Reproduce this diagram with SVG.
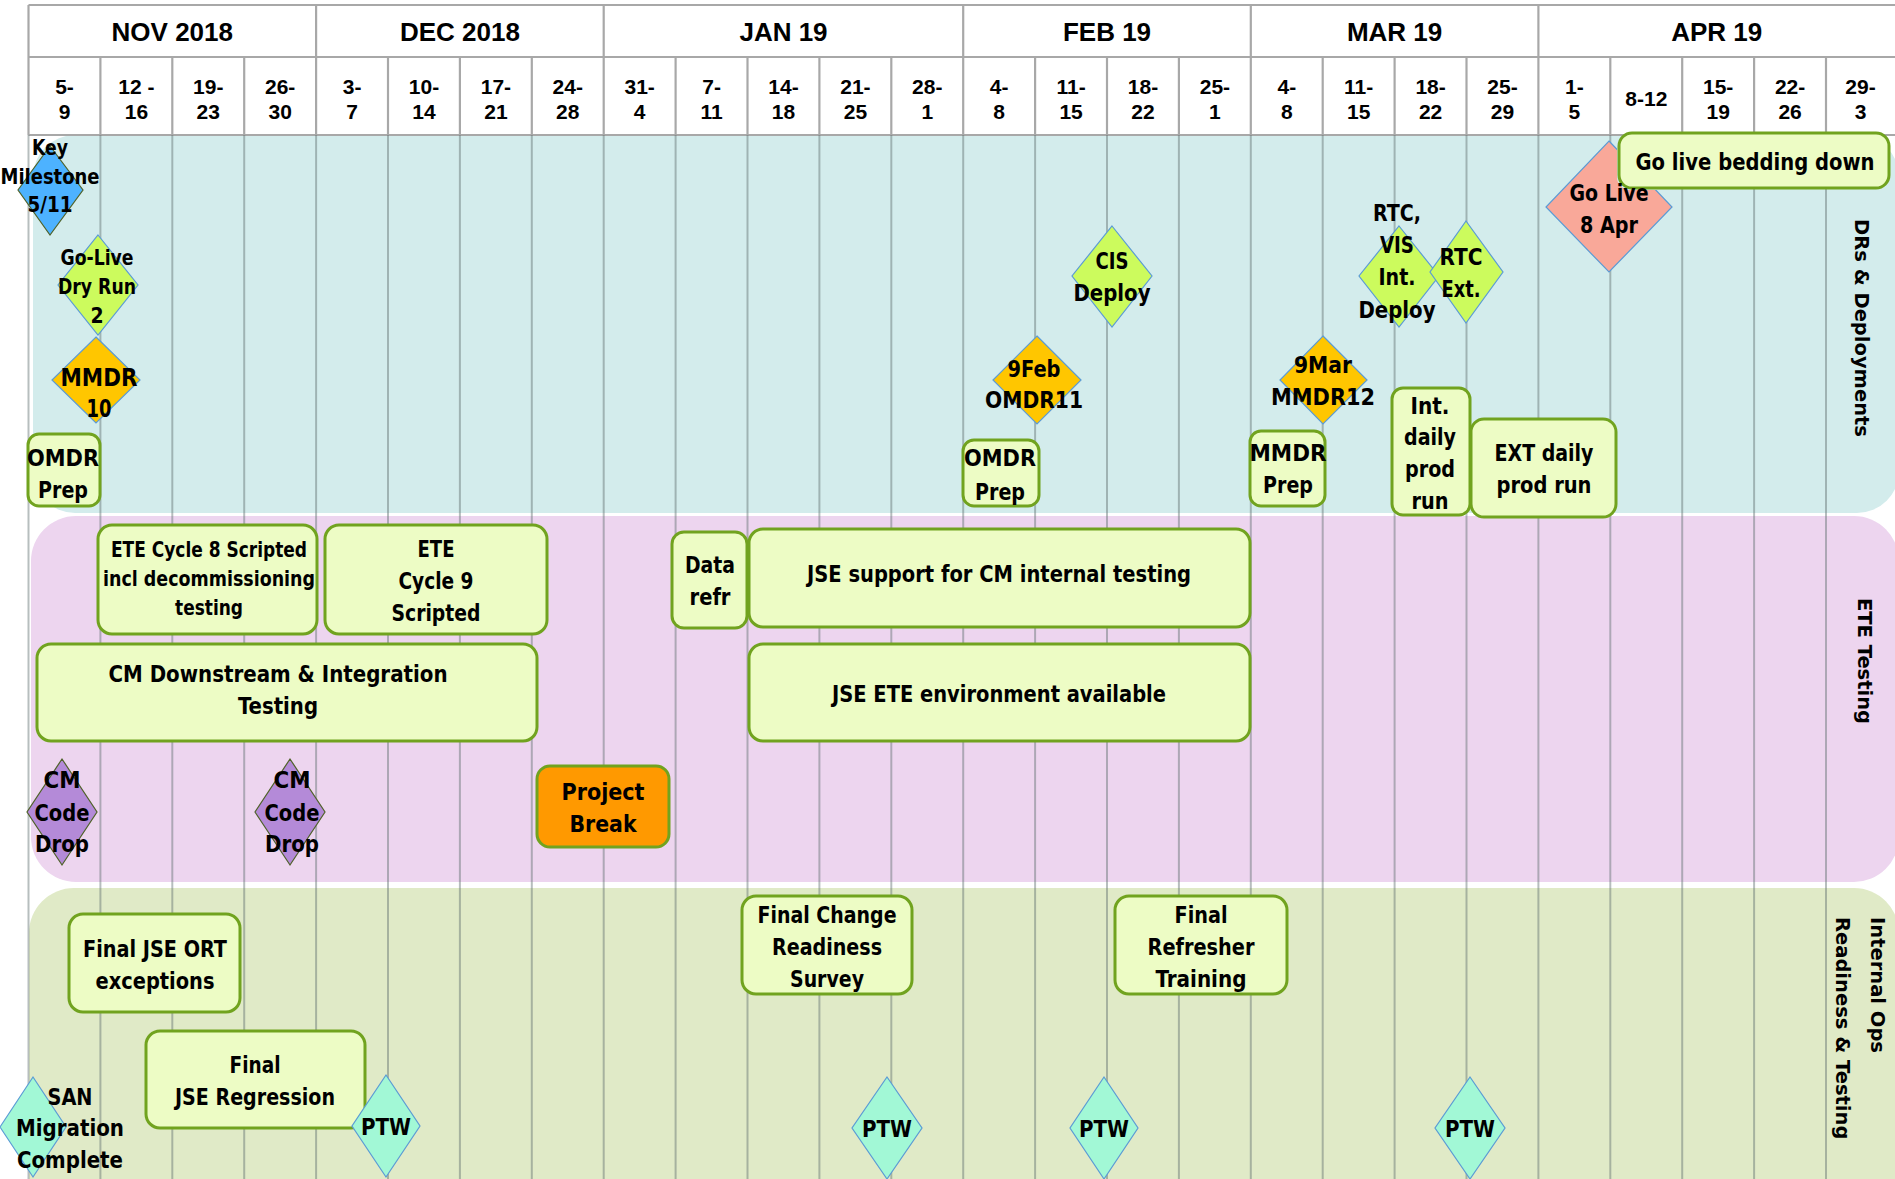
<svg xmlns="http://www.w3.org/2000/svg" width="1895" height="1179" viewBox="0 0 1895 1179">
<style>
.hdr{font-family:"Liberation Sans",Arial,sans-serif;font-weight:bold;fill:#000;text-anchor:middle}
.mon{font-size:26px}
.wk{font-size:21px}
.hl{stroke:#a8a8a8;stroke-width:2.2;fill:none}
.gl{stroke:#5f6f6f;stroke-opacity:0.45;stroke-width:2}
.t{font-family:"Liberation Sans Narrow","DejaVu Sans Condensed",sans-serif;font-weight:bold;font-size:23px;fill:#000;text-anchor:middle}
.s{font-size:21px}
.box{fill:#edfcc5;stroke:#71a31f;stroke-width:3}
.dg{fill:#ccfb5d;stroke:#5b9bd5;stroke-width:1.2}
.dy{fill:#ffc600;stroke:#5b9bd5;stroke-width:1.2}
.db{fill:#4db2ff;stroke:#4f6228;stroke-width:1.2}
.ds{fill:#f9a899;stroke:#5b9bd5;stroke-width:1.2}
.dp{fill:#b48ad8;stroke:#4f6228;stroke-width:1.2}
.da{fill:#a2f8d6;stroke:#5b9bd5;stroke-width:1.2}
.lane{font-family:"DejaVu Sans",Verdana,sans-serif;font-weight:bold;font-size:19.5px;fill:#000}
</style>
<defs>
<clipPath id="outsideBedding"><path clip-rule="evenodd" d="M1530,125H1700V285H1530Z M1630,131H1878A15,15 0 0 1 1893,146V175A15,15 0 0 1 1878,190H1630A13,13 0 0 1 1617,177V144A13,13 0 0 1 1630,131Z"/></clipPath>
</defs>
<rect width="1895" height="1179" fill="#fff"/>
<g id="bands">
<rect x="33" y="135" width="1866" height="378" rx="42" fill="#d3ecec"/>
<rect x="31" y="516" width="1868" height="366" rx="45" fill="#edd5ef"/>
<rect x="29" y="888" width="1870" height="340" rx="45" fill="#e0eac7"/>
</g>
<g id="header">
<line class="hl" x1="28.5" y1="5" x2="1895" y2="5"/>
<line class="hl" x1="28.5" y1="57" x2="1895" y2="57"/>
<line class="hl" x1="28.5" y1="135" x2="1895" y2="135"/>
<g class="hl">
<line x1="28.5" y1="5" x2="28.5" y2="135"/><line x1="316.1" y1="5" x2="316.1" y2="135"/><line x1="603.7" y1="5" x2="603.7" y2="135"/><line x1="963.2" y1="5" x2="963.2" y2="135"/><line x1="1250.8" y1="5" x2="1250.8" y2="135"/><line x1="1538.4" y1="5" x2="1538.4" y2="135"/>
<line x1="100.4" y1="57" x2="100.4" y2="135"/><line x1="172.3" y1="57" x2="172.3" y2="135"/><line x1="244.2" y1="57" x2="244.2" y2="135"/><line x1="388" y1="57" x2="388" y2="135"/><line x1="459.9" y1="57" x2="459.9" y2="135"/><line x1="531.8" y1="57" x2="531.8" y2="135"/><line x1="675.6" y1="57" x2="675.6" y2="135"/><line x1="747.5" y1="57" x2="747.5" y2="135"/><line x1="819.4" y1="57" x2="819.4" y2="135"/><line x1="891.3" y1="57" x2="891.3" y2="135"/><line x1="1035.1" y1="57" x2="1035.1" y2="135"/><line x1="1107" y1="57" x2="1107" y2="135"/><line x1="1178.9" y1="57" x2="1178.9" y2="135"/><line x1="1322.7" y1="57" x2="1322.7" y2="135"/><line x1="1394.6" y1="57" x2="1394.6" y2="135"/><line x1="1466.5" y1="57" x2="1466.5" y2="135"/><line x1="1610.3" y1="57" x2="1610.3" y2="135"/><line x1="1682.2" y1="57" x2="1682.2" y2="135"/><line x1="1754.1" y1="57" x2="1754.1" y2="135"/><line x1="1826" y1="57" x2="1826" y2="135"/>
</g>
<g class="hdr mon">
<text x="172.3" y="41">NOV 2018</text><text x="459.9" y="41">DEC 2018</text><text x="783.5" y="41">JAN 19</text><text x="1107" y="41">FEB 19</text><text x="1394.6" y="41">MAR 19</text><text x="1716.7" y="41">APR 19</text>
</g>
<g class="hdr wk">
<text x="64.5" y="94">5-</text><text x="64.5" y="119">9</text>
<text x="136.4" y="94">12 -</text><text x="136.4" y="119">16</text>
<text x="208.3" y="94">19-</text><text x="208.3" y="119">23</text>
<text x="280.2" y="94">26-</text><text x="280.2" y="119">30</text>
<text x="352.1" y="94">3-</text><text x="352.1" y="119">7</text>
<text x="424" y="94">10-</text><text x="424" y="119">14</text>
<text x="495.9" y="94">17-</text><text x="495.9" y="119">21</text>
<text x="567.8" y="94">24-</text><text x="567.8" y="119">28</text>
<text x="639.7" y="94">31-</text><text x="639.7" y="119">4</text>
<text x="711.6" y="94">7-</text><text x="711.6" y="119">11</text>
<text x="783.5" y="94">14-</text><text x="783.5" y="119">18</text>
<text x="855.4" y="94">21-</text><text x="855.4" y="119">25</text>
<text x="927.3" y="94">28-</text><text x="927.3" y="119">1</text>
<text x="999.2" y="94">4-</text><text x="999.2" y="119">8</text>
<text x="1071.1" y="94">11-</text><text x="1071.1" y="119">15</text>
<text x="1143" y="94">18-</text><text x="1143" y="119">22</text>
<text x="1214.9" y="94">25-</text><text x="1214.9" y="119">1</text>
<text x="1286.8" y="94">4-</text><text x="1286.8" y="119">8</text>
<text x="1358.7" y="94">11-</text><text x="1358.7" y="119">15</text>
<text x="1430.6" y="94">18-</text><text x="1430.6" y="119">22</text>
<text x="1502.5" y="94">25-</text><text x="1502.5" y="119">29</text>
<text x="1574.4" y="94">1-</text><text x="1574.4" y="119">5</text>
<text x="1646.3" y="106">8-12</text>
<text x="1718.2" y="94">15-</text><text x="1718.2" y="119">19</text>
<text x="1790.1" y="94">22-</text><text x="1790.1" y="119">26</text>
<text x="1860.5" y="94">29-</text><text x="1860.5" y="119">3</text>
</g>
</g>
<g id="grid" class="gl">
<line x1="28.5" y1="135" x2="28.5" y2="1179"/><line x1="100.4" y1="135" x2="100.4" y2="1179"/><line x1="172.3" y1="135" x2="172.3" y2="1179"/><line x1="244.2" y1="135" x2="244.2" y2="1179"/><line x1="316.1" y1="135" x2="316.1" y2="1179"/><line x1="388" y1="135" x2="388" y2="1179"/><line x1="459.9" y1="135" x2="459.9" y2="1179"/><line x1="531.8" y1="135" x2="531.8" y2="1179"/><line x1="603.7" y1="135" x2="603.7" y2="1179"/><line x1="675.6" y1="135" x2="675.6" y2="1179"/><line x1="747.5" y1="135" x2="747.5" y2="1179"/><line x1="819.4" y1="135" x2="819.4" y2="1179"/><line x1="891.3" y1="135" x2="891.3" y2="1179"/><line x1="963.2" y1="135" x2="963.2" y2="1179"/><line x1="1035.1" y1="135" x2="1035.1" y2="1179"/><line x1="1107" y1="135" x2="1107" y2="1179"/><line x1="1178.9" y1="135" x2="1178.9" y2="1179"/><line x1="1250.8" y1="135" x2="1250.8" y2="1179"/><line x1="1322.7" y1="135" x2="1322.7" y2="1179"/><line x1="1394.6" y1="135" x2="1394.6" y2="1179"/><line x1="1466.5" y1="135" x2="1466.5" y2="1179"/><line x1="1538.4" y1="135" x2="1538.4" y2="1179"/><line x1="1610.3" y1="135" x2="1610.3" y2="1179"/><line x1="1682.2" y1="135" x2="1682.2" y2="1179"/><line x1="1754.1" y1="135" x2="1754.1" y2="1179"/><line x1="1826" y1="135" x2="1826" y2="1179"/>
</g>
<g id="connectors"/>
<g id="lanes" class="lane">
<text transform="translate(1855,328) rotate(90)" text-anchor="middle">DRs &amp; Deployments</text>
<text transform="translate(1858,661) rotate(90)" text-anchor="middle">ETE Testing</text>
<text transform="translate(1871,917) rotate(90)">Internal Ops</text>
<text transform="translate(1836,917) rotate(90)">Readiness &amp; Testing</text>
</g>
<g id="n_key"><polygon class="db" points="50,146 83,190 50,235 18,190"/><text class="t s" x="50" y="155" textLength="36" lengthAdjust="spacingAndGlyphs">Key</text><text class="t s" x="50" y="184" textLength="99" lengthAdjust="spacingAndGlyphs">Milestone</text><text class="t s" x="50" y="212" textLength="45" lengthAdjust="spacingAndGlyphs">5/11</text></g>
<g id="n_golive_dryrun"><polygon class="dg" points="98,235 138,285 98,335 58,285"/><text class="t s" x="97" y="265" textLength="73" lengthAdjust="spacingAndGlyphs">Go-Live</text><text class="t s" x="97" y="294" textLength="78" lengthAdjust="spacingAndGlyphs">Dry Run</text><text class="t s" x="97" y="323">2</text></g>
<g id="n_mmdr10"><polygon class="dy" points="96,337 140,380 96,423 52,380"/><text class="t" style="font-size:25px" x="99" y="386" textLength="77" lengthAdjust="spacingAndGlyphs">MMDR</text><text class="t" style="font-size:25px" x="99" y="417" textLength="25" lengthAdjust="spacingAndGlyphs">10</text></g>
<g id="n_omdrprep1"><rect class="box" x="28" y="434" width="72" height="72" rx="11"/><text class="t" x="63" y="466" textLength="72" lengthAdjust="spacingAndGlyphs">OMDR</text><text class="t" x="63" y="498" textLength="50" lengthAdjust="spacingAndGlyphs">Prep</text></g>
<g id="n_9feb"><polygon class="dy" points="1037,336 1081,380 1037,424 993,380"/><text class="t" x="1034" y="377" textLength="53" lengthAdjust="spacingAndGlyphs">9Feb</text><text class="t" x="1034" y="408" textLength="98" lengthAdjust="spacingAndGlyphs">OMDR11</text></g>
<g id="n_cis"><polygon class="dg" points="1112,226 1152,276 1112,327 1072,276"/><text class="t" x="1112" y="269" textLength="33" lengthAdjust="spacingAndGlyphs">CIS</text><text class="t" x="1112" y="301" textLength="77" lengthAdjust="spacingAndGlyphs">Deploy</text></g>
<g id="n_omdrprep2"><rect class="box" x="963" y="440" width="76" height="66" rx="11"/><text class="t" x="1000" y="466" textLength="72" lengthAdjust="spacingAndGlyphs">OMDR</text><text class="t" x="1000" y="500" textLength="50" lengthAdjust="spacingAndGlyphs">Prep</text></g>
<g id="n_9mar"><polygon class="dy" points="1323,336 1367,380 1323,424 1280,380"/><text class="t" x="1323" y="373" textLength="58" lengthAdjust="spacingAndGlyphs">9Mar</text><text class="t" x="1323" y="405" textLength="104" lengthAdjust="spacingAndGlyphs">MMDR12</text></g>
<g id="n_mmdrprep"><rect class="box" x="1250" y="431" width="75" height="75" rx="11"/><text class="t" x="1288" y="461" textLength="77" lengthAdjust="spacingAndGlyphs">MMDR</text><text class="t" x="1288" y="493" textLength="50" lengthAdjust="spacingAndGlyphs">Prep</text></g>
<g id="n_rtcvis"><polygon class="dg" points="1399,226 1439,276 1399,327 1359,276"/><text class="t" x="1397" y="221" textLength="48" lengthAdjust="spacingAndGlyphs">RTC,</text><text class="t" x="1397" y="253" textLength="34" lengthAdjust="spacingAndGlyphs">VIS</text><text class="t" x="1397" y="285" textLength="37" lengthAdjust="spacingAndGlyphs">Int.</text><text class="t" x="1397" y="318" textLength="77" lengthAdjust="spacingAndGlyphs">Deploy</text></g>
<g id="n_rtcext"><polygon class="dg" points="1466,221 1503,272 1466,323 1430,272"/><text class="t" x="1461" y="265" textLength="43" lengthAdjust="spacingAndGlyphs">RTC</text><text class="t" x="1461" y="297" textLength="39" lengthAdjust="spacingAndGlyphs">Ext.</text></g>
<g id="n_intdaily"><rect class="box" x="1392" y="388" width="78" height="127" rx="11"/><text class="t" x="1430" y="414" textLength="39" lengthAdjust="spacingAndGlyphs">Int.</text><text class="t" x="1430" y="445" textLength="52" lengthAdjust="spacingAndGlyphs">daily</text><text class="t" x="1430" y="477" textLength="50" lengthAdjust="spacingAndGlyphs">prod</text><text class="t" x="1430" y="509" textLength="37" lengthAdjust="spacingAndGlyphs">run</text></g>
<g id="n_extdaily"><rect class="box" x="1471" y="419" width="145" height="98" rx="13"/><text class="t" x="1544" y="461" textLength="99" lengthAdjust="spacingAndGlyphs">EXT daily</text><text class="t" x="1544" y="493" textLength="95" lengthAdjust="spacingAndGlyphs">prod run</text></g>
<g id="n_gobedding"><rect class="box" x="1619" y="133" width="270" height="55" rx="13"/><text class="t" x="1755" y="170" textLength="239" lengthAdjust="spacingAndGlyphs">Go live bedding down</text></g>
<g id="n_golive"><polygon class="ds" clip-path="url(#outsideBedding)" points="1609,141 1672,207 1609,272 1546,207"/><text class="t" x="1609" y="201" textLength="79" lengthAdjust="spacingAndGlyphs">Go Live</text><text class="t" x="1609" y="233" textLength="58" lengthAdjust="spacingAndGlyphs">8 Apr</text></g>
<g id="n_ete8"><rect class="box" x="98" y="525" width="219" height="109" rx="14"/><text class="t s" x="209" y="557" textLength="196" lengthAdjust="spacingAndGlyphs">ETE Cycle 8 Scripted</text><text class="t s" x="209" y="586" textLength="212" lengthAdjust="spacingAndGlyphs">incl decommissioning</text><text class="t s" x="209" y="615" textLength="68" lengthAdjust="spacingAndGlyphs">testing</text></g>
<g id="n_ete9"><rect class="box" x="325" y="525" width="222" height="109" rx="14"/><text class="t" x="436" y="557" textLength="37" lengthAdjust="spacingAndGlyphs">ETE</text><text class="t" x="436" y="589" textLength="75" lengthAdjust="spacingAndGlyphs">Cycle 9</text><text class="t" x="436" y="621" textLength="89" lengthAdjust="spacingAndGlyphs">Scripted</text></g>
<g id="n_datarefr"><rect class="box" x="672" y="532" width="75" height="96" rx="12"/><text class="t" x="710" y="573" textLength="50" lengthAdjust="spacingAndGlyphs">Data</text><text class="t" x="710" y="605" textLength="41" lengthAdjust="spacingAndGlyphs">refr</text></g>
<g id="n_jsesupport"><rect class="box" x="749" y="529" width="501" height="98" rx="14"/><text class="t" x="999" y="582" textLength="384" lengthAdjust="spacingAndGlyphs">JSE support for CM internal testing</text></g>
<g id="n_cmdownstream"><rect class="box" x="37" y="644" width="500" height="97" rx="14"/><text class="t" x="278" y="682" textLength="339" lengthAdjust="spacingAndGlyphs">CM Downstream &amp; Integration</text><text class="t" x="278" y="714" textLength="80" lengthAdjust="spacingAndGlyphs">Testing</text></g>
<g id="n_jseete"><rect class="box" x="749" y="644" width="501" height="97" rx="14"/><text class="t" x="999" y="702" textLength="334" lengthAdjust="spacingAndGlyphs">JSE ETE environment available</text></g>
<g id="n_cmdrop1"><polygon class="dp" points="62,759 97,812 62,865 27,812"/><text class="t" x="62" y="788" textLength="37" lengthAdjust="spacingAndGlyphs">CM</text><text class="t" x="62" y="821" textLength="55" lengthAdjust="spacingAndGlyphs">Code</text><text class="t" x="62" y="852" textLength="54" lengthAdjust="spacingAndGlyphs">Drop</text></g>
<g id="n_cmdrop2"><polygon class="dp" points="290,759 325,812 290,865 255,812"/><text class="t" x="292" y="788" textLength="37" lengthAdjust="spacingAndGlyphs">CM</text><text class="t" x="292" y="821" textLength="55" lengthAdjust="spacingAndGlyphs">Code</text><text class="t" x="292" y="852" textLength="54" lengthAdjust="spacingAndGlyphs">Drop</text></g>
<g id="n_projbreak"><rect x="537" y="766" width="132" height="81" rx="13" fill="#ff9900" stroke="#71a31f" stroke-width="3"/><text class="t" x="603" y="800" textLength="83" lengthAdjust="spacingAndGlyphs">Project</text><text class="t" x="603" y="832" textLength="67" lengthAdjust="spacingAndGlyphs">Break</text></g>
<g id="n_finalort"><rect class="box" x="69" y="914" width="171" height="98" rx="14"/><text class="t" x="155" y="957" textLength="144" lengthAdjust="spacingAndGlyphs">Final JSE ORT</text><text class="t" x="155" y="989" textLength="119" lengthAdjust="spacingAndGlyphs">exceptions</text></g>
<g id="n_finalregr"><rect class="box" x="146" y="1031" width="219" height="97" rx="14"/><text class="t" x="255" y="1073" textLength="51" lengthAdjust="spacingAndGlyphs">Final</text><text class="t" x="255" y="1105" textLength="160" lengthAdjust="spacingAndGlyphs">JSE Regression</text></g>
<g id="n_san"><polygon class="da" points="33,1077 66,1127 33,1177 0,1127"/><text class="t" x="70" y="1105" textLength="45" lengthAdjust="spacingAndGlyphs">SAN</text><text class="t" x="70" y="1136" textLength="108" lengthAdjust="spacingAndGlyphs">Migration</text><text class="t" x="70" y="1168" textLength="106" lengthAdjust="spacingAndGlyphs">Complete</text></g>
<g id="n_ptw1"><polygon class="da" points="386,1075 420,1126 386,1177 352,1126"/><text class="t" x="386" y="1135" textLength="50" lengthAdjust="spacingAndGlyphs">PTW</text></g>
<g id="n_fcrs"><rect class="box" x="742" y="896" width="170" height="98" rx="14"/><text class="t" x="827" y="923" textLength="139" lengthAdjust="spacingAndGlyphs">Final Change</text><text class="t" x="827" y="955" textLength="110" lengthAdjust="spacingAndGlyphs">Readiness</text><text class="t" x="827" y="987" textLength="74" lengthAdjust="spacingAndGlyphs">Survey</text></g>
<g id="n_ffrt"><rect class="box" x="1115" y="896" width="172" height="98" rx="14"/><text class="t" x="1201" y="923" textLength="53" lengthAdjust="spacingAndGlyphs">Final</text><text class="t" x="1201" y="955" textLength="107" lengthAdjust="spacingAndGlyphs">Refresher</text><text class="t" x="1201" y="987" textLength="91" lengthAdjust="spacingAndGlyphs">Training</text></g>
<g id="n_ptw2"><polygon class="da" points="887,1077 922,1128 887,1179 852,1128"/><text class="t" x="887" y="1137" textLength="50" lengthAdjust="spacingAndGlyphs">PTW</text></g>
<g id="n_ptw3"><polygon class="da" points="1104,1077 1138,1128 1104,1179 1070,1128"/><text class="t" x="1104" y="1137" textLength="50" lengthAdjust="spacingAndGlyphs">PTW</text></g>
<g id="n_ptw4"><polygon class="da" points="1470,1077 1505,1128 1470,1179 1435,1128"/><text class="t" x="1470" y="1137" textLength="50" lengthAdjust="spacingAndGlyphs">PTW</text></g>
</svg>
